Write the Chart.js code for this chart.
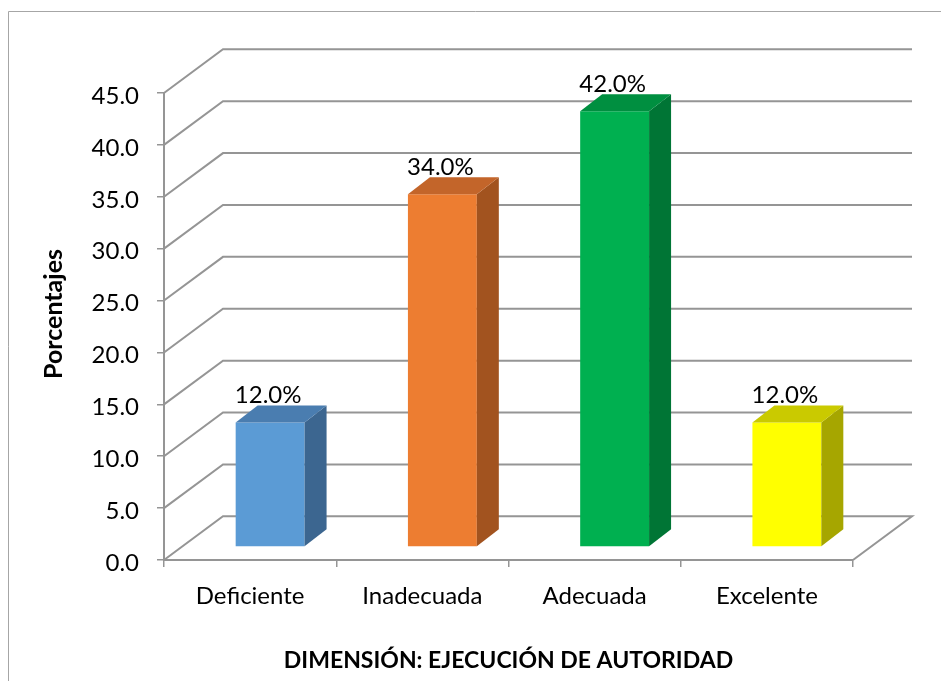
<!DOCTYPE html>
<html>
<head>
<meta charset="utf-8">
<script src="https://cdn.jsdelivr.net/npm/chart.js@4.4.1/dist/chart.umd.min.js"></script>
<style>
html,body{margin:0;padding:0;background:#fff;}
#wrap{width:941px;height:681px;position:relative;}
</style>
</head>
<body>
<div id="wrap"><canvas id="c"></canvas></div>
<script>
// ---- data ----
const categories = ['Deficiente', 'Inadecuada', 'Adecuada', 'Excelente'];
const percentages = [12.0, 34.0, 42.0, 12.0];
const yTickLabels = ['0.0','5.0','10.0','15.0','20.0','25.0','30.0','35.0','40.0','45.0'];
const xAxisTitle = 'DIMENSIÓN: EJECUCIÓN DE AUTORIDAD';
const yAxisTitle = 'Porcentajes';

// ---- styles ----
const frontColors = ['#5B9BD5', '#ED7D31', '#00B050', '#FFFF00'];
const topColors   = ['#4A7DB0', '#C3652A', '#008F40', '#CACA00'];
const sideColors  = ['#3C6690', '#A2531F', '#007535', '#A6A600'];
const gridColor = '#959595';
const FONT = 'Lato, "Open Sans", sans-serif';

// 3D geometry (pixels)
const DX = 59, DY = 43.7;   // wall depth
const BX = 20, BY = 13;     // bar front plane offset
const SX = 22, SY = 17;     // bar depth

const threeD = {
  id: 'threeD',
  beforeDraw(chart) {
    const ctx = chart.ctx;
    ctx.save();
    ctx.fillStyle = '#fff';
    ctx.fillRect(0, 0, chart.width, chart.height);
    ctx.strokeStyle = '#A6A6A6';
    ctx.lineWidth = 1;
    ctx.beginPath();
    ctx.moveTo(8.5, chart.height + 5);
    ctx.lineTo(8.5, 11.5);
    ctx.lineTo(chart.width + 5, 11.5);
    ctx.stroke();
    ctx.restore();
  },
  beforeDatasetsDraw(chart) {
    const {ctx, chartArea: a, scales: {y}} = chart;
    ctx.save();
    ctx.strokeStyle = gridColor;
    ctx.lineWidth = 2;
    y.ticks.forEach(t => {
      const py = y.getPixelForValue(t.value);
      ctx.beginPath();
      ctx.moveTo(a.left, py);
      ctx.lineTo(a.left + DX, py - DY);
      ctx.lineTo(a.right + DX, py - DY);
      if (t.value === 0) ctx.lineTo(a.right, py);
      ctx.stroke();
    });
    ctx.restore();
    ctx.save();
    ctx.translate(BX, -BY);
  },
  afterDatasetsDraw(chart) {
    const ctx = chart.ctx;
    const meta = chart.getDatasetMeta(0);
    meta.data.forEach((el, i) => {
      const w = el.width;
      const l = el.x - w / 2, r = el.x + w / 2, t = el.y, b = el.base;
      ctx.fillStyle = sideColors[i];
      ctx.beginPath();
      ctx.moveTo(r, t); ctx.lineTo(r + SX, t - SY); ctx.lineTo(r + SX, b - SY); ctx.lineTo(r, b);
      ctx.closePath(); ctx.fill();
      ctx.fillStyle = topColors[i];
      ctx.beginPath();
      ctx.moveTo(l, t); ctx.lineTo(l + SX, t - SY); ctx.lineTo(r + SX, t - SY); ctx.lineTo(r, t);
      ctx.closePath(); ctx.fill();
    });
    ctx.restore();
    // data labels
    ctx.save();
    ctx.fillStyle = '#000';
    ctx.font = '24px ' + FONT;
    ctx.textAlign = 'center';
    ctx.textBaseline = 'alphabetic';
    meta.data.forEach((el, i) => {
      const v = chart.data.datasets[0].data[i];
      ctx.fillText(v.toFixed(1) + '%', el.x + BX - 2, el.y - BY - SY - 2);
    });
    // y axis title
    ctx.font = 'bold 25px ' + FONT;
    ctx.textBaseline = 'middle';
    ctx.translate(54, 314);
    ctx.rotate(-Math.PI / 2);
    ctx.fillText(yAxisTitle, 0, 0);
    ctx.restore();
  }
};

new Chart(document.getElementById('c'), {
  type: 'bar',
  data: {
    labels: categories,
    datasets: [{
      data: percentages,
      backgroundColor: frontColors,
      borderWidth: 0,
      barPercentage: 0.4,
      categoryPercentage: 1,
      clip: false
    }]
  },
  options: {
    responsive: true,
    maintainAspectRatio: false,
    animation: false,
    layout: { padding: { top: 93, right: 88, bottom: 0, left: 0 } },
    plugins: { legend: { display: false }, tooltip: { enabled: false } },
    scales: {
      x: {
        afterFit(s) { s.height = 121; },
        grid: { offset: true, drawOnChartArea: false, drawTicks: true, tickLength: 7, color: gridColor, lineWidth: 1.5 },
        border: { display: true, color: gridColor, width: 2 },
        ticks: { color: '#000', font: { family: FONT, size: 24 }, padding: 15, maxRotation: 0, autoSkip: false },
        title: { display: true, text: xAxisTitle, color: '#000', font: { family: FONT, size: 23, weight: 'bold' }, padding: { top: 0, bottom: 7 } }
      },
      y: {
        min: 0, max: 45,
        afterFit(s) { s.width = 164; },
        grid: { drawOnChartArea: false, drawTicks: true, tickLength: 7, color: gridColor, lineWidth: 1.5 },
        border: { display: true, color: gridColor, width: 2 },
        ticks: {
          stepSize: 5, color: '#000', font: { family: FONT, size: 24 }, padding: 18, labelOffset: 3,
          callback: (v, i) => yTickLabels[i]
        }
      }
    }
  },
  plugins: [threeD]
});
</script>
</body>
</html>
